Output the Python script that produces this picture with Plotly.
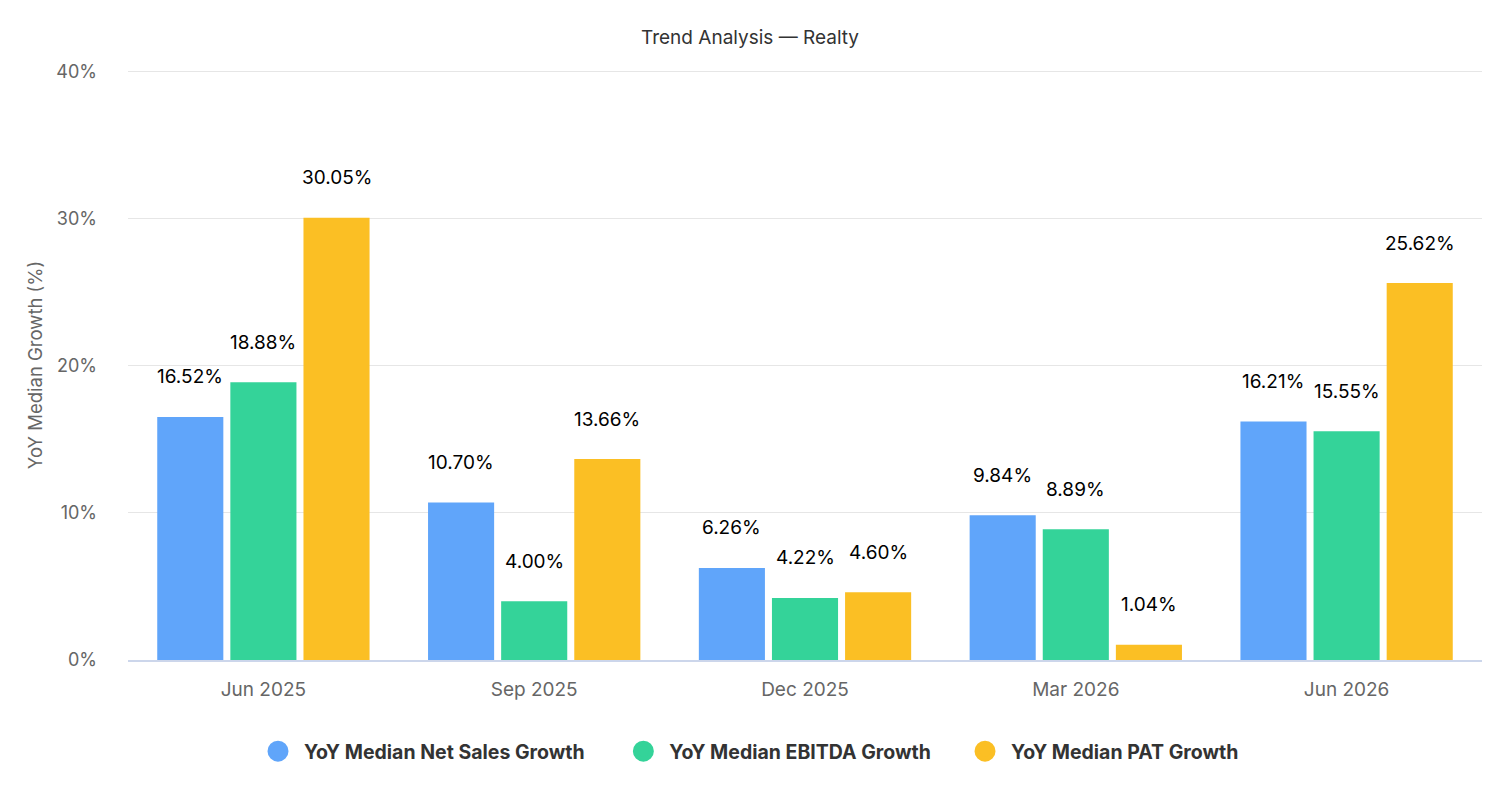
import plotly.graph_objects as go

categories = ["Jun 2025", "Sep 2025", "Dec 2025", "Mar 2026", "Jun 2026"]
net_sales = [16.52, 10.70, 6.26, 9.84, 16.21]
ebitda = [18.88, 4.00, 4.22, 8.89, 15.55]
pat = [30.05, 13.66, 4.60, 1.04, 25.62]
series_names = ["YoY Median Net Sales Growth", "YoY Median EBITDA Growth", "YoY Median PAT Growth"]
colors = ["#60A5FA", "#34D399", "#FBBF24"]
y_ticks = [0, 10, 20, 30, 40]
y_tick_labels = ["0%", "10%", "20%", "30%", "40%"]

FONT = "Inter"
BARGAP = 0.19
W, H = 1496, 770
ML, MR = 120, 22
fig = go.Figure()
all_series = [net_sales, ebitda, pat]
pads = ["\u00a0" * 6, "\u00a0" * 5, ""]
for name, vals, col, pad in zip(series_names, all_series, colors, pads):
    fig.add_trace(go.Bar(x=categories, y=vals, name=name, marker_color=col,
                         marker_line_width=0, showlegend=False, hoverinfo="skip"))
    fig.add_trace(go.Scatter(x=[None], y=[None], mode="markers", name=name + pad,
                             marker=dict(color=col, size=16, symbol="circle",
                                         line=dict(color=col, width=5))))

slot = (1 - BARGAP) / 3
annotations = []
for j, vals in enumerate(all_series):
    for i, v in enumerate(vals):
        annotations.append(dict(x=i + (j - 1) * slot, y=v, xref="x", yref="y",
                                text=f"{v:.2f}%", showarrow=False, yshift=40,
                                font=dict(family=FONT, size=19, color="#000000")))

legend_x = (W / 2 - 8 - ML) / (W - ML - MR)

fig.update_layout(
    width=W, height=H,
    barmode="group", bargap=BARGAP, bargroupgap=0.096,
    plot_bgcolor="white", paper_bgcolor="white",
    margin=dict(l=ML, r=MR, t=62, b=118, autoexpand=False),
    title=dict(text="Trend Analysis — Realty", x=0.496, xanchor="center",
               y=1 - 29 / H, yref="container", yanchor="middle",
               font=dict(family=FONT, size=19, color="#333333")),
    font=dict(family=FONT),
    legend=dict(orientation="h", x=legend_x, xanchor="center",
                y=-0.155, yanchor="middle", itemwidth=42,
                font=dict(family=FONT, size=19.5, color="#333333", weight="bold")),
    annotations=annotations,
    xaxis=dict(showgrid=False, showline=True, linecolor="#ccd6eb", linewidth=2,
               ticks="", tickfont=dict(family=FONT, size=19, color="#666666"),
               ticklabelstandoff=11, zeroline=False, tickangle=0, automargin=False),
    yaxis=dict(range=[0, 40.1], tickvals=y_ticks, ticktext=y_tick_labels,
               showgrid=True, gridcolor="#e6e6e6", gridwidth=1, zeroline=False,
               tickfont=dict(family=FONT, size=18, color="#666666"),
               ticklabelstandoff=30, automargin=False,
               title=dict(text="YoY Median Growth (%)", standoff=8,
                          font=dict(family=FONT, size=18.5, color="#666666"))),
)

fig.write_html("out.html")
